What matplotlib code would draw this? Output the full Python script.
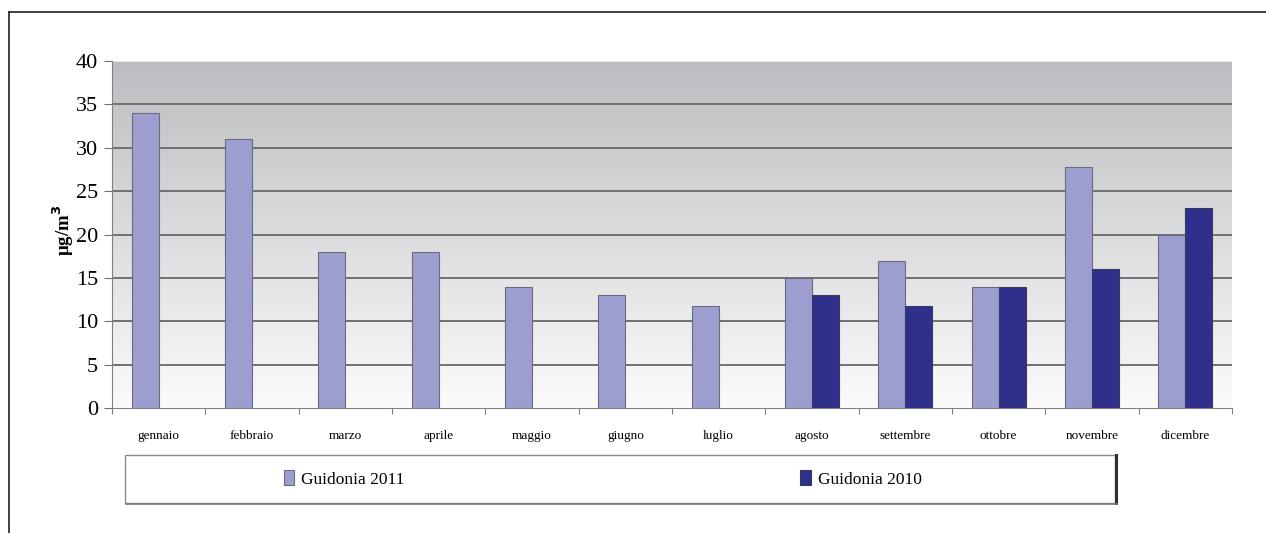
import numpy as np
import matplotlib
matplotlib.use("Agg")
import matplotlib.pyplot as plt
from matplotlib.patches import Rectangle
from matplotlib.lines import Line2D

# Monthly mean concentrations (µg/m³)
months = ["gennaio", "febbraio", "marzo", "aprile", "maggio", "giugno",
          "luglio", "agosto", "settembre", "ottobre", "novembre", "dicembre"]
guidonia_2011 = [34, 31, 18, 18, 14, 13, 11.8, 15, 17, 14, 27.8, 20]
guidonia_2010 = [np.nan, np.nan, np.nan, np.nan, np.nan, np.nan, np.nan,
                 13, 11.8, 14, 16, 23]
series_labels = ["Guidonia 2011", "Guidonia 2010"]
y_ticks = [0, 5, 10, 15, 20, 25, 30, 35, 40]

plt.rcParams["font.family"] = ["Liberation Serif", "DejaVu Serif"]

W, H = 1266, 533
fig = plt.figure(figsize=(W / 100, H / 100), dpi=100)
fig.patch.set_facecolor("white")

ax = fig.add_axes([112 / W, 1 - 408 / H, 1120 / W, 347 / H])

# gradient background: grey at the top fading to near white
grad = np.linspace(0, 1, 256).reshape(-1, 1)
top = np.array([188, 189, 192]) / 255
bot = np.array([251, 251, 251]) / 255
img = bot + (top - bot) * grad
img = np.repeat(img[:, None, :], 2, axis=1)
ax.imshow(img, extent=[0, 12, 0, 40], origin="lower", aspect="auto", zorder=0)

x = np.arange(len(months)) + 0.5
bw = 0.29
c2011 = "#9c9ed0"
c2010 = "#2f2f8c"
ax.bar(x - bw / 2, guidonia_2011, width=bw, color=c2011, edgecolor="#6a6a80",
       linewidth=0.8, zorder=3, label=series_labels[0])
ax.bar(x + bw / 2, guidonia_2010, width=bw, color=c2010, edgecolor="#3a3a60",
       linewidth=0.8, zorder=3, label=series_labels[1])

ax.set_xlim(0, 12)
ax.set_ylim(0, 40)
ax.set_yticks(y_ticks)
ax.set_yticklabels([str(v) for v in y_ticks], fontsize=16)
for v in y_ticks[1:-1]:
    ax.axhline(v, color="#707070", linewidth=1.4, zorder=1)
ax.axhline(40, color="#f0f0f0", linewidth=1.2, zorder=1)

ax.set_xticks(np.arange(0, 13))
ax.set_xticklabels([])
ax.set_xticks(x, minor=True)
ax.set_xticklabels(months, minor=True, fontsize=9.5)
ax.tick_params(axis="x", which="major", length=4, color="#808080", direction="out")
ax.tick_params(axis="x", which="minor", length=0, pad=16)
ax.tick_params(axis="y", length=6, color="#707070", pad=4)

for s in ["top", "right"]:
    ax.spines[s].set_visible(False)
ax.spines["left"].set_color("#808080")
ax.spines["bottom"].set_color("#808080")
ax.spines["left"].set_zorder(4)
ax.spines["bottom"].set_zorder(4)

fig.text(63 / W, 1 - 230 / H, "μg/m$^{\\mathbf{3}}$", rotation=90, fontsize=13.5,
         fontweight="bold", ha="center", va="center")

# legend panel
fig.patches.append(Rectangle((125 / W, 1 - 503 / H), (1115 - 125) / W, 48 / H,
                             transform=fig.transFigure, facecolor="white",
                             edgecolor="#8a8a8a", linewidth=1.0, zorder=1))
fig.lines.append(Line2D([1116 / W, 1116 / W], [1 - 503 / H, 1 - 455 / H],
                        transform=fig.transFigure, color="#303030", linewidth=2.2))
fig.lines.append(Line2D([126 / W, 1117 / W], [1 - 504 / H, 1 - 504 / H],
                        transform=fig.transFigure, color="#7a7a7a", linewidth=1.2))

handles, labels = ax.get_legend_handles_labels()
leg = fig.legend(handles, labels, loc="center left",
                 bbox_to_anchor=(268 / W, 1 - 479 / H), ncol=2, frameon=False,
                 fontsize=12.5, handlelength=0.6, handleheight=0.9,
                 handletextpad=0.4, columnspacing=22.8)

# outer frame
fig.lines.append(Line2D([9 / W, 9 / W], [0, 1 - 12 / H], transform=fig.transFigure,
                        color="#202020", linewidth=1.2))
fig.lines.append(Line2D([9 / W, 1], [1 - 12 / H, 1 - 12 / H],
                        transform=fig.transFigure, color="#202020", linewidth=1.2))

fig.savefig("out.png", dpi=100)
